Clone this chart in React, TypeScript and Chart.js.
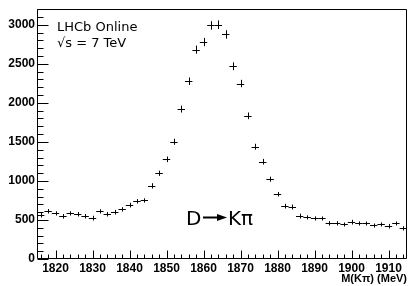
import React, { useEffect, useRef } from 'react';
import { Chart, registerables } from 'chart.js';

Chart.register(...registerables);

// Bin centres (MeV), 2 MeV bins from 1815 to 1915
const binCenters = [
  1816, 1818, 1820, 1822, 1824, 1826, 1828, 1830, 1832, 1834,
  1836, 1838, 1840, 1842, 1844, 1846, 1848, 1850, 1852, 1854,
  1856, 1858, 1860, 1862, 1864, 1866, 1868, 1870, 1872, 1874,
  1876, 1878, 1880, 1882, 1884, 1886, 1888, 1890, 1892, 1894,
  1896, 1898, 1900, 1902, 1904, 1906, 1908, 1910, 1912, 1914,
];
const counts = [
  565, 615, 587, 553, 587, 578, 553, 531, 613, 578,
  604, 638, 693, 740, 750, 940, 1098, 1277, 1502, 1920,
  2277, 2682, 2779, 2992, 3001, 2877, 2469, 2248, 1834, 1438,
  1247, 1022, 830, 681, 672, 557, 536, 523, 519, 463,
  463, 442, 480, 460, 455, 434, 447, 429, 455, 400,
];
const binWidth = 2;
const xMajorTicks = [1820, 1830, 1840, 1850, 1860, 1870, 1880, 1890, 1900, 1910];
const yMajorTicks = [0, 500, 1000, 1500, 2000, 2500, 3000];
const xRange = [1815, 1915];
const yRange = [0, 3200];
const xMinorStep = 2;
const yMinorStep = 100;
const xTitle = 'M(K\u03c0) (MeV)';
const labelLines = ['LHCb Online', '\u221as = 7 TeV'];

const BOLD = '"Liberation Sans", Arial, Helvetica, sans-serif';

const framePlugin = {
  id: 'rootFrame',
  afterDatasetsDraw(chart: any) {
    const { ctx, chartArea: a, scales } = chart;
    const sx = scales.x;
    const sy = scales.y;
    ctx.save();
    // error-bar crosses
    ctx.strokeStyle = '#000';
    ctx.lineWidth = 1;
    ctx.beginPath();
    binCenters.forEach((c, i) => {
      const n = counts[i];
      const e = Math.sqrt(n);
      const x0 = sx.getPixelForValue(c - binWidth / 2);
      const x1 = sx.getPixelForValue(c + binWidth / 2);
      const xc = Math.round(sx.getPixelForValue(c)) + 0.5;
      const yc = Math.round(sy.getPixelForValue(n)) + 0.5;
      const yTop = Math.min(sy.getPixelForValue(n + e), yc - 2);
      const yBot = Math.max(sy.getPixelForValue(n - e), yc + 2);
      ctx.moveTo(x0, yc);
      ctx.lineTo(x1, yc);
      ctx.moveTo(xc, yTop);
      ctx.lineTo(xc, yBot);
    });
    ctx.stroke();

    // frame
    ctx.beginPath();
    ctx.lineWidth = 1;
    ctx.rect(Math.round(a.left) + 0.5, Math.round(a.top) + 0.5,
      Math.round(a.right - a.left) - 1, Math.round(a.bottom - a.top) - 1);
    ctx.stroke();

    // inner ticks
    ctx.beginPath();
    const bot = Math.round(a.bottom) - 0.5;
    sx.ticks.forEach((t: any) => {
      const px = Math.round(sx.getPixelForValue(t.value)) + 0.5;
      const len = xMajorTicks.includes(t.value) ? 8 : 4;
      ctx.moveTo(px, bot);
      ctx.lineTo(px, bot - len);
    });
    const lft = Math.round(a.left) + 0.5;
    sy.ticks.forEach((t: any) => {
      const py = Math.round(sy.getPixelForValue(t.value)) + 0.5;
      const len = yMajorTicks.includes(t.value) ? 11 : 6;
      ctx.moveTo(lft, py);
      ctx.lineTo(lft + len, py);
    });
    ctx.stroke();

    // annotation texts
    ctx.fillStyle = '#000';
    ctx.textBaseline = 'alphabetic';
    ctx.textAlign = 'left';
    ctx.font = '13px "DejaVu Sans"';
    ctx.fillText(labelLines[0], a.left + 20, a.top + 22);
    ctx.fillText(labelLines[1], a.left + 20, a.top + 38);

    ctx.font = '20px "DejaVu Sans"';
    const bx = 186;
    const by = 225;
    ctx.fillText('D', bx, by);
    ctx.lineWidth = 2;
    ctx.beginPath();
    ctx.moveTo(bx + 17, by - 7.5);
    ctx.lineTo(bx + 34, by - 7.5);
    ctx.stroke();
    ctx.beginPath();
    ctx.moveTo(bx + 41, by - 7.5);
    ctx.lineTo(bx + 31, by - 11);
    ctx.lineTo(bx + 31, by - 4);
    ctx.closePath();
    ctx.fill();
    ctx.fillText('K\u03c0', bx + 42, by);
    ctx.restore();
  },
};

export default function App() {
  const ref = useRef<HTMLCanvasElement | null>(null);
  useEffect(() => {
    document.body.style.margin = '0';
    const canvas = ref.current;
    if (!canvas) return;
    const xTickValues: number[] = [];
    for (let v = xRange[0] + 1; v < xRange[1]; v += xMinorStep) xTickValues.push(v);
    const yTickValues: number[] = [];
    for (let v = yRange[0]; v <= yRange[1]; v += yMinorStep) yTickValues.push(v);

    const chart = new Chart(canvas, {
      type: 'scatter',
      data: {
        datasets: [
          {
            data: binCenters.map((c, i) => ({ x: c, y: counts[i] })),
            pointRadius: 0,
            showLine: false,
            borderColor: '#000',
          },
        ],
      },
      options: {
        animation: false,
        responsive: false,
        events: [],
        layout: { padding: { left: 0, top: 8, right: 3, bottom: 0 } },
        plugins: { legend: { display: false }, tooltip: { enabled: false } },
        scales: {
          x: {
            type: 'linear',
            min: xRange[0],
            max: xRange[1],
            grid: { display: false, drawTicks: false },
            border: { display: false },
            afterBuildTicks: (s: any) => { s.ticks = xTickValues.map((v) => ({ value: v })); },
            afterFit: (s: any) => { s.height = 27; },
            ticks: {
              autoSkip: false,
              maxRotation: 0,
              padding: 2,
              color: '#000',
              font: { family: BOLD, weight: 'bold', size: 12 },
              callback: (v: any) => (xMajorTicks.includes(v) ? String(v) : ''),
            },
            title: {
              display: true,
              text: xTitle,
              align: 'end',
              color: '#000',
              padding: { top: 0, bottom: 0 },
              font: { family: BOLD, weight: 'bold', size: 11 },
            },
          },
          y: {
            type: 'linear',
            min: yRange[0],
            max: yRange[1],
            grid: { display: false, drawTicks: false },
            border: { display: false },
            afterBuildTicks: (s: any) => { s.ticks = yTickValues.map((v) => ({ value: v })); },
            afterFit: (s: any) => { s.width = 37; },
            ticks: {
              autoSkip: false,
              padding: 2,
              color: '#000',
              font: { family: BOLD, weight: 'bold', size: 12 },
              callback: (v: any) => (yMajorTicks.includes(v) ? String(v) : ''),
            },
          },
        },
      },
      plugins: [framePlugin],
    } as any);
    return () => chart.destroy();
  }, []);
  return (
    <div style={{ position: 'fixed', left: 0, top: 0, width: 410, height: 286, background: '#fff' }}>
      <canvas ref={ref} width={410} height={286} style={{ width: 410, height: 286, display: 'block' }} />
    </div>
  );
}
